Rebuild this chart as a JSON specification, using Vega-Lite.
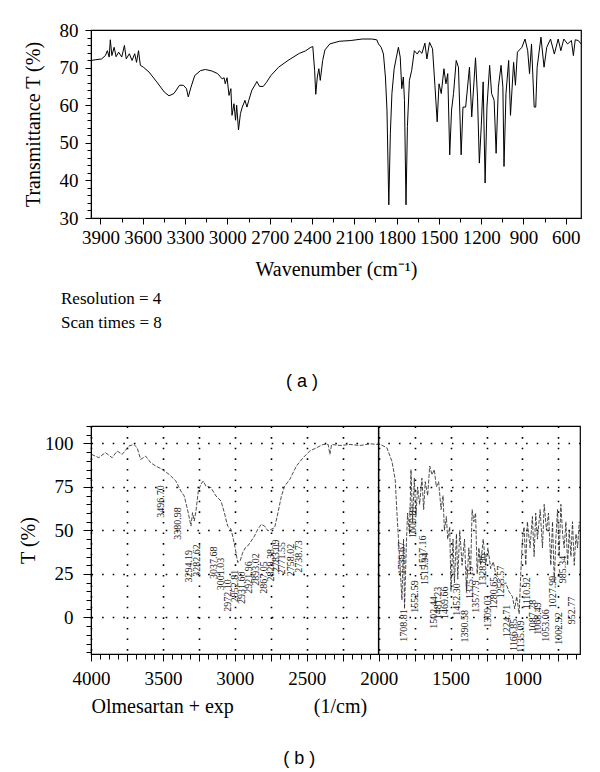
{
  "$schema": "https://vega.github.io/schema/vega-lite/v6.json",
  "background": "white",
  "padding": {"left": 17, "top": 20, "right": 8, "bottom": 5},
  "spacing": 33,
  "config": {
    "font": "Liberation Serif",
    "view": {"stroke": "black", "strokeWidth": 1.2},
    "axis": {
      "domainColor": "black", "tickColor": "black", "labelColor": "black", "titleColor": "black",
      "labelFont": "Liberation Serif", "titleFont": "Liberation Serif",
      "labelFontSize": 19, "titleFontSize": 20, "titleFontWeight": "normal",
      "labelOverlap": false, "labelFlush": false, "grid": false
    }
  },
  "datasets": {
    "specA": [
      {"wn":3967,"t":71.9},{"wn":3932,"t":72.1},{"wn":3892,"t":72.3},{"wn":3865,"t":73.2},{"wn":3851,"t":74.5},{"wn":3838,"t":72.8},{"wn":3830,"t":77.4},{"wn":3819,"t":73.2},{"wn":3803,"t":75.4},{"wn":3789,"t":72.9},{"wn":3771,"t":74.1},{"wn":3749,"t":72.8},{"wn":3730,"t":75.9},{"wn":3717,"t":72.3},{"wn":3695,"t":73.7},{"wn":3676,"t":71.9},{"wn":3657,"t":73.7},{"wn":3644,"t":71.4},{"wn":3630,"t":74.5},{"wn":3617,"t":70.6},{"wn":3595,"t":70.1},{"wn":3555,"t":68.8},{"wn":3501,"t":66.2},{"wn":3447,"t":63.5},{"wn":3414,"t":62.5},{"wn":3379,"t":63.1},{"wn":3339,"t":65.3},{"wn":3312,"t":65.3},{"wn":3290,"t":64.4},{"wn":3277,"t":62.2},{"wn":3258,"t":64.8},{"wn":3231,"t":67.9},{"wn":3190,"t":69.2},{"wn":3155,"t":69.5},{"wn":3110,"t":69.1},{"wn":3069,"t":68.4},{"wn":3037,"t":67.0},{"wn":3023,"t":67.3},{"wn":3015,"t":65.7},{"wn":3002,"t":67.3},{"wn":2988,"t":62.6},{"wn":2975,"t":64.4},{"wn":2967,"t":57.3},{"wn":2953,"t":60.4},{"wn":2942,"t":56.0},{"wn":2934,"t":60.0},{"wn":2921,"t":53.4},{"wn":2907,"t":57.8},{"wn":2894,"t":59.5},{"wn":2875,"t":61.3},{"wn":2861,"t":59.5},{"wn":2848,"t":61.3},{"wn":2826,"t":64.0},{"wn":2799,"t":65.7},{"wn":2791,"t":66.3},{"wn":2772,"t":65.0},{"wn":2745,"t":65.0},{"wn":2724,"t":66.0},{"wn":2691,"t":67.9},{"wn":2637,"t":70.1},{"wn":2570,"t":71.9},{"wn":2489,"t":73.8},{"wn":2448,"t":74.4},{"wn":2408,"t":75.4},{"wn":2394,"t":75.6},{"wn":2381,"t":69.2},{"wn":2373,"t":62.9},{"wn":2362,"t":67.5},{"wn":2351,"t":69.7},{"wn":2341,"t":66.6},{"wn":2324,"t":71.9},{"wn":2308,"t":74.7},{"wn":2273,"t":76.3},{"wn":2206,"t":77.0},{"wn":2125,"t":77.2},{"wn":2044,"t":77.6},{"wn":1976,"t":77.6},{"wn":1941,"t":77.4},{"wn":1928,"t":76.3},{"wn":1909,"t":75.4},{"wn":1893,"t":73.6},{"wn":1879,"t":67.5},{"wn":1868,"t":58.7},{"wn":1855,"t":33.5},{"wn":1844,"t":52.5},{"wn":1833,"t":63.1},{"wn":1817,"t":69.7},{"wn":1801,"t":72.8},{"wn":1787,"t":75.4},{"wn":1774,"t":72.8},{"wn":1763,"t":64.4},{"wn":1752,"t":67.5},{"wn":1744,"t":61.3},{"wn":1733,"t":33.5},{"wn":1723,"t":54.3},{"wn":1709,"t":66.6},{"wn":1693,"t":69.2},{"wn":1674,"t":74.5},{"wn":1653,"t":73.6},{"wn":1639,"t":74.5},{"wn":1620,"t":73.8},{"wn":1599,"t":76.5},{"wn":1585,"t":72.3},{"wn":1566,"t":76.7},{"wn":1545,"t":75.0},{"wn":1528,"t":65.3},{"wn":1512,"t":55.6},{"wn":1499,"t":65.7},{"wn":1483,"t":63.1},{"wn":1464,"t":69.7},{"wn":1450,"t":65.7},{"wn":1437,"t":68.4},{"wn":1423,"t":46.8},{"wn":1410,"t":58.7},{"wn":1396,"t":63.1},{"wn":1377,"t":71.9},{"wn":1361,"t":70.1},{"wn":1342,"t":46.8},{"wn":1329,"t":59.5},{"wn":1310,"t":59.5},{"wn":1283,"t":70.1},{"wn":1267,"t":56.9},{"wn":1240,"t":72.6},{"wn":1226,"t":62.2},{"wn":1213,"t":44.6},{"wn":1199,"t":54.7},{"wn":1186,"t":66.2},{"wn":1172,"t":39.3},{"wn":1159,"t":59.5},{"wn":1140,"t":70.6},{"wn":1126,"t":63.1},{"wn":1108,"t":61.3},{"wn":1094,"t":47.2},{"wn":1078,"t":64.8},{"wn":1059,"t":70.6},{"wn":1046,"t":64.8},{"wn":1038,"t":43.7},{"wn":1024,"t":63.1},{"wn":1005,"t":71.9},{"wn":992,"t":57.3},{"wn":970,"t":71.4},{"wn":957,"t":65.3},{"wn":943,"t":74.1},{"wn":911,"t":75.4},{"wn":889,"t":77.6},{"wn":870,"t":74.5},{"wn":857,"t":68.4},{"wn":843,"t":76.3},{"wn":824,"t":59.5},{"wn":813,"t":59.5},{"wn":803,"t":70.1},{"wn":776,"t":78.1},{"wn":754,"t":70.1},{"wn":735,"t":75.4},{"wn":708,"t":77.6},{"wn":681,"t":73.6},{"wn":654,"t":77.6},{"wn":635,"t":74.5},{"wn":614,"t":77.6},{"wn":587,"t":76.3},{"wn":560,"t":77.2},{"wn":546,"t":73.2},{"wn":533,"t":77.4},{"wn":511,"t":77.2},{"wn":492,"t":76.3}
    ],
    "specB": [
      {"wn":3997,"t":93.7},{"wn":3946,"t":91.8},{"wn":3900,"t":94.7},{"wn":3853,"t":91.8},{"wn":3818,"t":95.6},{"wn":3783,"t":93.7},{"wn":3737,"t":98.5},{"wn":3702,"t":99.4},{"wn":3679,"t":97.5},{"wn":3655,"t":90.8},{"wn":3620,"t":92.7},{"wn":3585,"t":88.9},{"wn":3550,"t":87.0},{"wn":3504,"t":85.1},{"wn":3457,"t":82.2},{"wn":3410,"t":78.4},{"wn":3375,"t":72.6},{"wn":3352,"t":69.8},{"wn":3329,"t":62.1},{"wn":3305,"t":52.5},{"wn":3294,"t":60.2},{"wn":3282,"t":55.4},{"wn":3270,"t":61.2},{"wn":3254,"t":72.6},{"wn":3236,"t":76.5},{"wn":3220,"t":78.4},{"wn":3201,"t":75.5},{"wn":3166,"t":74.6},{"wn":3131,"t":69.8},{"wn":3096,"t":66.9},{"wn":3073,"t":60.2},{"wn":3050,"t":52.5},{"wn":3026,"t":50.7},{"wn":3010,"t":44.9},{"wn":2996,"t":39.2},{"wn":2980,"t":31.6},{"wn":2963,"t":32.5},{"wn":2945,"t":37.3},{"wn":2926,"t":40.2},{"wn":2910,"t":41.1},{"wn":2886,"t":43.9},{"wn":2863,"t":46.8},{"wn":2840,"t":50.7},{"wn":2816,"t":53.5},{"wn":2793,"t":52.5},{"wn":2770,"t":49.7},{"wn":2746,"t":50.7},{"wn":2723,"t":51.6},{"wn":2700,"t":60.2},{"wn":2676,"t":69.8},{"wn":2653,"t":75.5},{"wn":2618,"t":79.3},{"wn":2572,"t":87.0},{"wn":2525,"t":91.8},{"wn":2479,"t":95.6},{"wn":2432,"t":97.5},{"wn":2386,"t":99.4},{"wn":2351,"t":99.4},{"wn":2339,"t":93.7},{"wn":2327,"t":99.4},{"wn":2269,"t":98.8},{"wn":2199,"t":99.4},{"wn":2129,"t":98.8},{"wn":2059,"t":99.8},{"wn":2013,"t":99.4},{"wn":1989,"t":99.4},{"wn":1943,"t":97.5},{"wn":1908,"t":89.8},{"wn":1885,"t":79.3},{"wn":1873,"t":60.2},{"wn":1862,"t":44.9},{"wn":1850,"t":27.7},{"wn":1838,"t":10},{"wn":1827,"t":45},{"wn":1820,"t":5},{"wn":1808,"t":40},{"wn":1799,"t":60},{"wn":1785,"t":48},{"wn":1775,"t":85},{"wn":1764,"t":55},{"wn":1752,"t":80},{"wn":1741,"t":58},{"wn":1729,"t":75},{"wn":1715,"t":65},{"wn":1699,"t":80},{"wn":1687,"t":62},{"wn":1676,"t":78},{"wn":1659,"t":70},{"wn":1645,"t":87},{"wn":1629,"t":82},{"wn":1613,"t":85},{"wn":1599,"t":75},{"wn":1583,"t":78},{"wn":1566,"t":62},{"wn":1552,"t":70},{"wn":1543,"t":50},{"wn":1529,"t":58},{"wn":1520,"t":45},{"wn":1506,"t":52},{"wn":1497,"t":15},{"wn":1483,"t":45},{"wn":1473,"t":20},{"wn":1459,"t":48},{"wn":1450,"t":22},{"wn":1436,"t":50},{"wn":1420,"t":30},{"wn":1403,"t":45},{"wn":1389,"t":15},{"wn":1373,"t":40},{"wn":1361,"t":25},{"wn":1350,"t":62},{"wn":1338,"t":55},{"wn":1326,"t":60},{"wn":1315,"t":25},{"wn":1303,"t":40},{"wn":1291,"t":30},{"wn":1273,"t":45},{"wn":1256,"t":30},{"wn":1240,"t":40},{"wn":1221,"t":28},{"wn":1203,"t":32},{"wn":1186,"t":25},{"wn":1163,"t":22},{"wn":1140,"t":18},{"wn":1117,"t":20},{"wn":1094,"t":15},{"wn":1070,"t":12},{"wn":1054,"t":5},{"wn":1040,"t":12},{"wn":1023,"t":2},{"wn":1012,"t":25},{"wn":1000,"t":45},{"wn":989,"t":52},{"wn":977,"t":30},{"wn":966,"t":55},{"wn":947,"t":40},{"wn":931,"t":58},{"wn":919,"t":35},{"wn":908,"t":60},{"wn":896,"t":45},{"wn":877,"t":62},{"wn":861,"t":40},{"wn":849,"t":65},{"wn":833,"t":50},{"wn":819,"t":60},{"wn":803,"t":30},{"wn":791,"t":55},{"wn":779,"t":20},{"wn":768,"t":45},{"wn":756,"t":62},{"wn":745,"t":35},{"wn":733,"t":65},{"wn":721,"t":48},{"wn":710,"t":40},{"wn":698,"t":55},{"wn":686,"t":30},{"wn":675,"t":50},{"wn":663,"t":35},{"wn":652,"t":55},{"wn":640,"t":30},{"wn":628,"t":48},{"wn":617,"t":40},{"wn":605,"t":55}
    ],
    "peaks": [
      {"label":"3496.70","wn":3515,"t":66.6},{"label":"3380.98","wn":3394,"t":54},{"label":"3294.19","wn":3316,"t":29.4},{"label":"3282.62","wn":3266,"t":32.7},{"label":"3037.68","wn":3142,"t":31.5},{"label":"3001.03","wn":3096,"t":25},{"label":"2972.10","wn":3045,"t":12.6},{"label":"2952.81","wn":2996,"t":18},{"label":"2931.60","wn":2947,"t":17},{"label":"2921.96","wn":2898,"t":23},{"label":"2893.02","wn":2851,"t":27.5},{"label":"2867.05","wn":2800,"t":23},{"label":"2829.38","wn":2746,"t":30},{"label":"2783.09","wn":2712,"t":35.5},{"label":"2771.55","wn":2670,"t":34},{"label":"2758.02","wn":2607,"t":33},{"label":"2738.73","wn":2556,"t":35},
      {"label":"1739.67","wn":1838,"t":34},{"label":"1708.81","wn":1827,"t":-4.6},{"label":"1600.81","wn":1761,"t":55},{"label":"1552.59","wn":1745,"t":12},{"label":"1537.16","wn":1694,"t":37.8},{"label":"1515.94","wn":1675,"t":28},{"label":"1502.44","wn":1617,"t":2.9},{"label":"1481.23","wn":1586,"t":8.3},{"label":"1469.66","wn":1542,"t":8.5},{"label":"1452.30","wn":1453,"t":10.3},{"label":"1390.58","wn":1400,"t":-5},{"label":"1375.15","wn":1366,"t":20},{"label":"1357.79","wn":1326,"t":12},{"label":"1328.86","wn":1272,"t":27.5},{"label":"1309.03","wn":1240,"t":3.4},{"label":"1280.65","wn":1198,"t":14},{"label":"1255.57","wn":1151,"t":20.3},{"label":"1224.71","wn":1109,"t":-2},{"label":"1166.85","wn":1058,"t":-10},{"label":"1135.09","wn":1011,"t":-11},{"label":"1110.92","wn":969,"t":14},{"label":"1087.78","wn":929,"t":0.8},{"label":"1068.49","wn":890,"t":-0.6},{"label":"1053.06","wn":836,"t":-4.6},{"label":"1027.99","wn":790,"t":14.6},{"label":"1002.92","wn":748,"t":-6.3},{"label":"985.34","wn":720,"t":27.6},{"label":"952.77","wn":655,"t":4}
    ],
    "marker": [{"wn": 2000}]
  },
  "vconcat": [
    {
      "title": {"text": "( a )", "orient": "bottom", "anchor": "middle", "font": "Liberation Sans", "fontSize": 18, "fontWeight": "normal", "color": "black", "offset": 41},
      "vconcat": [
        {
          "width": 490,
          "height": 188,
          "title": {"text": ["Resolution = 4", "Scan times = 8"], "orient": "bottom", "anchor": "start", "frame": "group", "font": "Liberation Serif", "fontSize": 17, "fontWeight": "normal", "color": "black", "lineHeight": 24, "offset": 12, "dx": -30},
          "data": {"name": "specA"},
          "mark": {"type": "line", "color": "black", "strokeWidth": 1, "clip": true},
          "encoding": {
            "x": {
              "field": "wn", "type": "quantitative",
              "scale": {"domain": [3967, 492], "nice": false, "zero": false},
              "axis": {
                "title": "Wavenumber (cm\u207b\u00b9)",
                "values": [3900,3750,3600,3450,3300,3150,3000,2850,2700,2550,2400,2250,2100,1950,1800,1650,1500,1350,1200,1050,900,750,600],
                "format": "d",
                "labelExpr": "datum.value % 300 === 0 ? datum.label : ''",
                "tickSize": {"condition": {"test": "datum.value % 300 === 0", "value": 6}, "value": 4},
                "labelPadding": 4, "titlePadding": 12
              }
            },
            "y": {
              "field": "t", "type": "quantitative",
              "scale": {"domain": [30, 80], "nice": false, "zero": false},
              "axis": {
                "title": "Transmittance T (%)",
                "values": [30,32,34,36,38,40,42,44,46,48,50,52,54,56,58,60,62,64,66,68,70,72,74,76,78,80],
                "labelExpr": "datum.value % 10 === 0 ? datum.label : ''",
                "tickSize": {"condition": {"test": "datum.value % 10 === 0", "value": 6}, "value": 4},
                "labelPadding": 7, "titlePadding": 16
              }
            }
          }
        }
      ]
    },
    {
      "title": {"text": "( b )", "orient": "bottom", "anchor": "middle", "font": "Liberation Sans", "fontSize": 18, "fontWeight": "normal", "color": "black", "offset": 33},
      "vconcat": [
        {
          "width": 489,
          "height": 228,
          "resolve": {"axis": {"x": "independent", "y": "independent"}},
          "layer": [
            {
              "data": {"name": "specB"},
              "mark": {"type": "line", "color": "#222", "strokeWidth": 0.8, "strokeDash": [4, 1.5], "clip": true},
              "encoding": {
                "x": {
                  "field": "wn", "type": "quantitative",
                  "scale": {"domain": [4000, 600], "nice": false, "zero": false},
                  "axis": {
                    "orient": "bottom",
                    "title": "Olmesartan + exp\u00a0\u00a0\u00a0\u00a0\u00a0\u00a0\u00a0\u00a0\u00a0\u00a0\u00a0\u00a0\u00a0\u00a0\u00a0\u00a0(1/cm)",
                    "titleX": 0, "titleAlign": "left",
                    "values": [4000,3750,3500,3250,3000,2750,2500,2250,2000,1750,1500,1250,1000,750],
                    "format": "d",
                    "labelExpr": "datum.value % 500 === 0 ? datum.label : ''",
                    "tickSize": 7,
                    "labelPadding": 8, "titlePadding": 8,
                    "grid": true,
                    "gridColor": "black", "gridWidth": 1.6, "gridDash": [1.6, 9]
                  }
                },
                "y": {
                  "field": "t", "type": "quantitative",
                  "scale": {"domain": [-21, 110], "nice": false, "zero": false},
                  "axis": {
                    "orient": "left",
                    "title": "T (%)",
                    "values": [0, 25, 50, 75, 100],
                    "tickSize": 8,
                    "labelPadding": 10, "titlePadding": 6,
                    "grid": true,
                    "gridColor": "black", "gridWidth": 1.6, "gridDash": [1.6, 9]
                  }
                }
              }
            },
            {
              "data": {"name": "marker"},
              "mark": {"type": "rule", "color": "black", "strokeWidth": 1.5},
              "encoding": {
                "x": {"field": "wn", "type": "quantitative", "axis": null}
              }
            },
            {
              "data": {"name": "peaks"},
              "mark": {"type": "text", "angle": 270, "font": "Liberation Serif", "fontSize": 10, "color": "#222", "align": "center", "baseline": "middle"},
              "encoding": {
                "x": {"field": "wn", "type": "quantitative",
                  "axis": {"orient": "bottom", "title": null, "labels": false, "domain": false, "grid": false, "tickSize": 5,
                    "values": [3937.5,3875,3812.5,3687.5,3625,3562.5,3437.5,3375,3312.5,3187.5,3125,3062.5,2937.5,2875,2812.5,2687.5,2625,2562.5,2437.5,2375,2312.5,2187.5,2125,2062.5,1937.5,1875,1812.5,1687.5,1625,1562.5,1437.5,1375,1312.5,1187.5,1125,1062.5,937.5,875,812.5,687.5,625]}},
                "y": {"field": "t", "type": "quantitative",
                  "axis": {"orient": "left", "title": null, "labels": false, "domain": false, "grid": false, "tickSize": 5,
                    "values": [-20,-15,-10,-5,5,10,15,20,30,35,40,45,55,60,65,70,80,85,90,95,105,110]}},
                "text": {"field": "label"}
              }
            }
          ]
        }
      ]
    }
  ]
}
